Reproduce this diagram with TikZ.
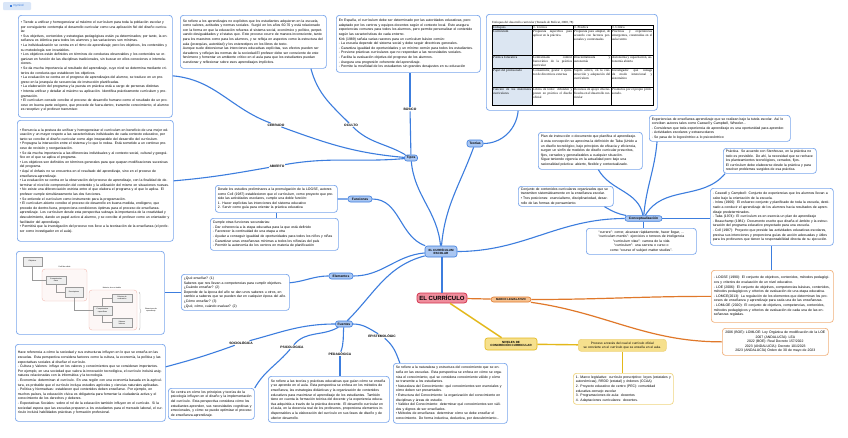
\documentclass[tikz,border=0pt]{standalone}
\usepackage{fontspec}
\setmainfont{Liberation Sans}
\newfontfamily\serifcell{Liberation Serif}
\usetikzlibrary{positioning,decorations.pathreplacing}
\definecolor{linkblue}{HTML}{3C7DDE}
\definecolor{boxblue}{HTML}{78A5EC}
\definecolor{pillblue}{HTML}{A9C6F2}
\definecolor{badgefill}{HTML}{D9E6F8}
\definecolor{currred}{HTML}{D2354F}
\definecolor{currfill}{HTML}{EF8D9C}
\definecolor{legorange}{HTML}{E0782A}
\definecolor{legfill}{HTML}{F6C291}
\definecolor{legbox}{HTML}{F1B07A}
\definecolor{nivline}{HTML}{E3B81A}
\definecolor{nivfill}{HTML}{F6E08D}
\definecolor{nivbox}{HTML}{EFD47E}
\definecolor{cellshade}{HTML}{DCE6F2}
\definecolor{imggray}{HTML}{9A9A9A}
\definecolor{imgfill}{HTML}{EEEEEE}
\definecolor{regionpink}{HTML}{F2B9B0}
\newcommand\boxfont{\fontsize{3.45}{4.6}\selectfont}
\newcommand\cellfont{\serifcell\fontsize{3.3}{4.1}\selectfont}
\newcommand\imgfont{\fontsize{1.8}{2.1}\selectfont}
\newcommand\pillfont{\bfseries\fontsize{3.3}{3.7}\selectfont}
\tikzstyle{textbox}=[rectangle, draw=boxblue, fill=white, line width=0.7pt, rounded corners=3pt, anchor=north west, align=left, inner xsep=2.5pt, inner ysep=1.5pt, font=\boxfont]
\tikzstyle{legalbox}=[textbox, draw=legbox]
\tikzstyle{levelbox}=[textbox, draw=nivbox]
\tikzstyle{topic}=[rectangle, draw=linkblue, fill=pillblue, line width=0.6pt, rounded corners=2.5pt, align=center, inner xsep=2pt, inner ysep=1.2pt, font=\pillfont]
\tikzstyle{branch}=[fill=white, inner sep=0.6pt, font=\pillfont]
\tikzstyle{badge}=[rectangle, fill=badgefill, rounded corners=1pt, text=linkblue, font=\fontsize{3}{3.5}\selectfont, minimum width=28pt, minimum height=8pt, inner sep=0.5pt]
\tikzstyle{link}=[draw=linkblue, line width=1.1pt]
\tikzstyle{legallink}=[draw=legorange, line width=1.2pt]
\tikzstyle{levellink}=[draw=nivline, line width=1.4pt]
\tikzstyle{cell}=[anchor=north west, inner sep=0pt, align=justify, font=\cellfont]
\tikzstyle{imgbox}=[rectangle, draw=imggray, fill=imgfill, line width=0.3pt, align=center, inner sep=0.3pt, font=\imgfont]
\tikzstyle{imgline}=[draw=imggray, line width=0.3pt]
\tikzstyle{region}=[draw=regionpink, line width=0.4pt, rounded corners=3pt, fill=regionpink!12]

\begin{document}
\begin{tikzpicture}[x=1pt, y=-1pt]
\path[use as bounding box, fill=white] (0,0) rectangle (848,437);

\node[badge] (logo) at (17,6) {\rule{2pt}{2pt} mymind};

\node[textbox, text width=149pt, minimum height=102pt] (closed) at (18,15) {• Tiende a unificar y homogeneizar al máximo el currículum para toda la población escolar y por consiguiente contempla el desarrollo curricular como una aplicación fiel del diseño curricular.\\ • Sus objetivos, contenidos y estrategias pedagógicas están ya determinados; por tanto, la enseñanza es idéntica para todos los alumnos y las variaciones son mínimas.\\ • La individualización se centra en el ritmo de aprendizaje; pero los objetivos, los contenidos y su metodología son invariables.\\ • Los objetivos están definidos en términos de conductas observables y los contenidos se organizan en función de las disciplinas tradicionales, sin buscar en ellos conexiones e interrelaciones.\\ • Se da mucha importancia al resultado del aprendizaje, cuyo nivel se determina mediante criterios de conducta que establecen los objetivos.\\ • La evaluación se centra en el progreso de aprendizajes del alumno, se traduce en un progreso en la jerarquía de secuencias de instrucción planificadas.\\ • La elaboración del programa y la puesta en práctica está a cargo de personas distintas\\ • Intenta unificar y detallar al máximo su aplicación. Identifica prácticamente currículum y programación.\\ • El currículum cerrado concibe el proceso de desarrollo humano como el resultado de un proceso en buena parte exógeno, que procede de fuera-dentro, transmite conocimiento, el alumno es receptivo y el profesor transmisor.};

\node[textbox, text width=141pt, minimum height=53pt] (hidden) at (180,15) {Se refiere a los aprendizajes no explícitos que los estudiantes adquieren en la escuela, como valores, actitudes y normas sociales. Surgió en los años 60-70 y está relacionado con la forma en que la educación refuerza el sistema social, económico y político, perpetuando desigualdades y el status quo. Este proceso ocurre de manera inconsciente, tanto para los maestros como para los alumnos, y se refleja en aspectos como la estructura del aula (jerarquías, autoridad) y los estereotipos en los libros de texto.\\ Aunque suele distorsionar las intenciones educativas explícitas, sus efectos pueden ser duraderos y reflejan las normas de la sociedad.El profesor debe ser consciente de este fenómeno y fomentar un ambiente crítico en el aula para que los estudiantes puedan cuestionar y reflexionar sobre esos aprendizajes implícitos.};

\node[textbox, text width=139pt, minimum height=57pt] (basic) at (336,15) {En España, el currículum debe ser determinado por las autoridades educativas, pero adaptado por los centros y equipos docentes según el contexto local. Esto asegura experiencias comunes para todos los alumnos, pero permite personalizar el contenido según las características de cada entorno.\\ Kirk (1989) señala varias razones para un currículum básico común:\\ - La escuela depende del sistema social y debe seguir directrices generales.\\ - Garantiza igualdad de oportunidades y un mínimo común para todos los estudiantes.\\ - Previene prácticas curriculares que no respondan a las necesidades sociales.\\ - Facilita la evaluación objetiva del progreso de los alumnos.\\ - Asegura una progresión coherente del aprendizaje.\\ - Permite la movilidad de los estudiantes sin grandes desajustes en su educación};

\node[textbox, minimum width=171pt, minimum height=96pt, inner sep=0pt] (approaches) at (486,14) {};
\node[anchor=south west, inner sep=0pt, font=\serifcell\fontsize{3.1}{3.6}\selectfont] (tabletitle) at (492,24.6) {Enfoques del desarrollo curricular (Tomado de Bolívar, 2008, 78)};
\fill[cellshade] (492,25) rectangle (532,105);
\draw[line width=0.3pt] (492,25) rectangle (653,105);
\foreach \x in {532,573,611} \draw[line width=0.3pt] (\x,25) -- (\x,105);
\foreach \y in {29.5,55,68,87} \draw[line width=0.3pt] (492,\y) -- (653,\y);
\node[cell, text width=38pt] (h1) at (493,25.7) {Enfoques};
\node[cell, text width=39pt] (h2) at (533,25.7) {T. Técnica};
\node[cell, text width=36pt] (h3) at (574,25.7) {T. Práctica};
\node[cell, text width=40pt] (h4) at (612,25.7) {T. Crítica};
\node[cell, text width=38pt] (r11) at (493,30.2) {Currículum};
\node[cell, text width=39pt] (r12) at (533,30.2) {Propuesta específica para aplicar en la práctica.};
\node[cell, text width=36pt] (r13) at (574,30.2) {Propuesta para adaptar, de acuerdo con factores personales y contextuales};
\node[cell, text width=40pt] (r14) at (612,30.2) {Prácticas y experiencias emergentes, construidas en el aula/centro};
\node[cell, text width=38pt] (r21) at (493,55.7) {Política Educativa};
\node[cell, text width=39pt] (r22) at (533,55.7) {Centralizada control burocrático de la práctica curricular};
\node[cell, text width=36pt] (r23) at (574,55.7) {Descentralizada y autonomía};
\node[cell, text width=40pt] (r24) at (612,55.7) {Autonomía y capacitación, autonomía abierta};
\node[cell, text width=38pt] (r31) at (493,68.7) {Papel del profesorado};
\node[cell, text width=39pt] (r32) at (533,68.7) {Consumidor, gestor o ejecutor de directrices externas};
\node[cell, text width=36pt] (r33) at (574,68.7) {Sujeto activo, en la construcción y adaptación del currículum};
\node[cell, text width=40pt] (r34) at (612,68.7) {Investigador que indaga de modo intencional y sistemático};
\node[cell, text width=38pt] (r41) at (493,87.7) {Función de los materiales curriculares};
\node[cell, text width=39pt] (r42) at (533,87.7) {Libros de texto: difunden y ponen en práctica el diseño oficial};
\node[cell, text width=36pt] (r43) at (574,87.7) {Recursos de apoyo diversificados en el desarrollo curricular};
\node[cell, text width=40pt] (r44) at (612,87.7) {Productos por el propio profesorado.};

\node[textbox, text width=151pt, minimum height=121pt] (open) at (17,120) {• Renuncia a la postura de unificar y homogeneizar el currículum en beneficio de una mejor educación y un mayor respeto a las características individuales de cada contexto educativo, por tanto se concibe el diseño curricular como algo inseparable del desarrollo del currículum.\\ • Propugna la interacción entre el sistema y lo que lo rodea. Está sometido a un continuo proceso de revisión y reorganización.\\ • Se da mucha importancia a las diferencias individuales y al contexto social, cultural y geográfico en el que se aplica el programa.\\ • Los objetivos son definidos en términos generales para que quepan modificaciones sucesivas del programa.\\ • Aquí el énfasis no se encuentra en el resultado del aprendizaje, sino en el proceso de enseñanza-aprendizaje.\\ • La evaluación se centra en la observación del proceso de aprendizaje, con la finalidad de determinar el nivel de comprensión del contenido y la utilización del mismo en situaciones nuevas.\\ • No existe una diferenciación estricta entre el que elabora el programa y el que lo aplica. El profesor cumple simultáneamente las dos funciones.\\ • Se entiende el currículum como instrumento para la programación.\\ • El currículum abierto concibe el proceso de desarrollo en buena medida, endógeno, que procede de dentro-fuera, proporciona condiciones óptimas para el proceso de enseñanza-aprendizaje. Los currículum desde esta perspectiva subraya la importancia de la creatividad y descubrimiento, dando un papel activo al alumno, y se concibe el profesor como un orientador y facilitador del aprendizaje.\\ • Permitirá que la investigación del proceso nos lleve a la teorización de la enseñanza (el profesor como investigador en el aula).};

\node[textbox, text width=117pt, minimum height=27pt] (funcA) at (215,185) {Desde los estudios preliminares a la promulgación de la LOGSE, autores como Coll (1987) establecieron que el currículum, como proyecto que preside las actividades escolares, cumple una doble función:\\ 1. Hacer explícitas las intenciones del sistema educativo\\ 2. Servir como guía para orientar la práctica educativa};

\node[textbox, text width=123pt, minimum height=32pt] (funcB) at (210,218) {Cumple otras funciones secundarias:\\ - Dar coherencia a la etapa educativa para la que está definido\\ - Favorecer la continuidad de una etapa a otra\\ - Ayudar a conseguir igualdad de oportunidades para todos los niños y niñas\\ - Garantizar unas enseñanzas mínimas a todos los niños/as del país\\ - Permitir la autonomía de los centros en materia de planificación};

\node[textbox, minimum width=148pt, minimum height=83pt, inner sep=0pt] (scheme) at (16,251) {};
\draw[region] (42,269) rectangle (87,301);
\draw[region] (89,290) rectangle (137,330);
\node[inner sep=0pt, font=\imgfont] (perfil) at (64.5,266.5) {Perfil de salida};
\node[inner sep=0pt, font=\imgfont] (materia) at (112,287.5) {Materia, área o ámbito};
\node[imgbox, minimum width=19pt, minimum height=9pt] (obj) at (32.5,261.5) {Objetivos};
\node[imgbox, minimum width=20pt, minimum height=8pt] (pclave) at (56,280) {Competencias\\clave};
\node[imgbox, minimum width=18pt, minimum height=10pt] (desc) at (74,292) {Descriptores};
\node[imgbox, minimum width=20pt, minimum height=8pt] (crit) at (122,298) {Criterios de\\evaluación};
\node[imgbox, minimum width=19pt, minimum height=9pt] (cesp) at (102.5,310.5) {Competencias\\específicas};
\node[imgbox, minimum width=20pt, minimum height=9pt] (sab) at (122,322.5) {Saberes\\básicos};
\node[inner sep=0pt, align=center, font=\imgfont] (situ) at (151,310) {Situaciones de\\aprendizaje};
\draw[imgline] (obj.south) |- (pclave.west);
\draw[imgline] (pclave.south) |- (desc.west);
\draw[imgline] (desc.south) |- (cesp.west);
\draw[imgline] (cesp.north) |- (crit.west);
\draw[imgline] (cesp.south) |- (sab.west);
\draw[imgline, decorate, decoration={brace, amplitude=2pt}] (139,292) -- (139,330);

\node[textbox, text width=103pt, minimum height=36pt] (questions) at (181,274) {¿Qué enseñar? (1)\\ Saberes que nos llevan a competencias para cumplir objetivos.\\ ¿Cuándo enseñar? (2)\\ Depende de la época del año se dan unos saberes u otros, en cambio a saberes que se pueden dar en cualquier época del año.\\ ¿Cómo enseñar? (3)\\ ¿Qué, cómo, cuándo evaluar? (2)};

\node[textbox, text width=145pt, minimum height=77pt] (socbox) at (15,344) {Hace referencia a cómo la sociedad y sus estructuras influyen en lo que se enseña en las escuelas. Esta perspectiva considera factores como la cultura, la economía, la política y las expectativas sociales al diseñar el currículo.\\ - Cultura y Valores: influye en los valores y conocimientos que se consideran importantes. Por ejemplo, en una sociedad que valora la innovación tecnológica, el currículo incluirá asignaturas relacionadas con la informática y la tecnología.\\ - Economía: determinan el currículo. En una región con una economía basada en la agricultura, es probable que el currículo incluya estudios agrícolas y ciencias naturales aplicadas.\\ - Política y Normativas: establecen qué contenidos deben enseñarse. Por ejemplo, en muchos países, la educación cívica es obligatoria para fomentar la ciudadanía activa y el conocimiento de los derechos y deberes.\\ - Expectativas Sociales: sobre el rol de la educación también influyen en el currículo. Si la sociedad espera que las escuelas preparen a los estudiantes para el mercado laboral, el currículo incluirá habilidades prácticas y formación profesional.};

\node[textbox, text width=81pt, minimum height=31pt] (psybox) at (168,388) {Se centra en cómo los principios y teorías de la psicología influyen en el diseño y la implementación del currículo. Esta perspectiva considera cómo los estudiantes aprenden, sus necesidades cognitivas y emocionales, y cómo se puede optimizar el proceso de enseñanza-aprendizaje.};

\node[textbox, text width=116pt, minimum height=46pt] (pedbox) at (268,376) {Se refiere a las teorías y prácticas educativas que guían cómo se enseña y se aprende en el aula. Esta perspectiva se enfoca en los métodos de enseñanza, las estrategias didácticas y la organización de contenidos educativos para maximizar el aprendizaje de los estudiantes. También tiene en cuenta la formación teórica del docente y la experiencia educativa adquirida a través de la práctica docente. El desarrollo curricular en el aula, en la docencia real de los profesores, proporciona elementos indispensables a la elaboración del currículo en sus fases de diseño y de ulterior desarrollo.};

\node[textbox, text width=109pt, minimum height=60pt] (epibox) at (393,363) {Se refiere a la naturaleza y estructura del conocimiento que se enseña en las escuelas. Esta perspectiva se enfoca en cómo se organiza el conocimiento, qué se considera conocimiento válido y cómo se transmite a los estudiantes.\\ • Naturaleza del Conocimiento: qué conocimientos son esenciales y cómo deben ser presentados.\\ • Estructura del Conocimiento: la organización del conocimiento en disciplinas y áreas de estudio.\\ • Validez del Conocimiento: determinar qué conocimientos son válidos y dignos de ser enseñados.\\ • Métodos de enseñanza: determinar cómo se debe enseñar el conocimiento. De forma inductiva, deductiva, por descubrimiento...};

\node[textbox, text width=99pt, minimum height=37pt] (plan) at (538,132) {Plan de instrucción o documento que planifica el aprendizaje.\\ A esta concepción se aproxima la definición de Taba (Unido a un diseño tecnológico, bajo principios de eficacia y eficiencia, surgen un sinfín de modelos de diseño curricular prescritos, fijos, cerrados y generalizables a cualquier situación.\\ Sigue teniendo vigencia en la actualidad pero bajo una racionalidad práctica: abierto, flexible y contextualizado.};

\node[textbox, text width=90pt, minimum height=20pt, inner ysep=0.8pt] (contents) at (518,186) {Conjunto de contenidos curriculares organizados que se transmiten sistemáticamente en la enseñanza escolar.\\ • Tres posiciones: esencialismo, disciplinariedad, desarrollo de las formas de pensamiento.};

\node[textbox, text width=105pt, minimum height=26pt, align=center, inner ysep=1pt] (etym) at (586,228) {“currere”: correr, alcanzar rápidamente, hacer llegar, ...\\ “curriculum mentis”: ejercicios o torneos de inteligencia\\ “curriculum vitae”: carrera de la vida\\ “curriculum”: una carrera o curso o como “course of subject matter studies”.};

\node[textbox, text width=136pt, minimum height=26pt] (experiences) at (649,115) {Experiencias de enseñanza-aprendizaje que se realizan bajo la tutela escolar. Así lo conciben autores tales como Caswell y Campbell, Wheeler...\\ - Consideran que toda experiencia de aprendizaje es una oportunidad para aprender.\\ - Actividades escolares y extraescolares\\ - Se pasa de lo logocéntrico a lo psicocéntrico};

\node[textbox, text width=88pt, minimum height=25pt] (practice) at (723,148) {Práctica. Se acuerdo con Stenhouse, en la práctica no todo es previsible. De ahí, la necesidad que se rechace los planteamientos tecnológicos, cerrados, fijos.\\ El currículum debe elaborarse desde la práctica y para resolver problemas surgidos de esa práctica.};

\node[textbox, text width=118pt, minimum height=57pt] (authors) at (710,188) {- Caswell y Campbell: Conjunto de experiencias que los alumnos llevan a cabo bajo la orientación de la escuela.\\ - Inlow (1966): El esfuerzo conjunto y planificado de toda la escuela, destinado a conducir el aprendizaje de los alumnos hacia resultados de aprendizaje predeterminados.\\ - Taba (1974): El currículum es en esencia un plan de aprendizaje\\ - Beauchamp (1981): Documento escrito que diseña el ámbito y la estructuración del programa educativo proyectado para una escuela.\\ - Coll (1987): Proyecto que preside las actividades educativas escolares, precisa sus intenciones y proporciona guías de acción adecuadas y útiles para los profesores que tienen la responsabilidad directa de su ejecución.};

\node[legalbox, text width=117pt, minimum height=52pt] (laws) at (711,270) {- LOGSE (1990): El conjunto de objetivos, contenidos, métodos pedagógicos y criterios de evaluación de un nivel educativo.\\ - LOE (2006): El conjunto de objetivos, competencias básicas, contenidos, métodos pedagógicos y criterios de evaluación de una etapa educativa.\\ - LOMCE(2013): La regulación de los elementos que determinan los procesos de enseñanza y aprendizaje para cada una de las enseñanzas.\\ - LOMLOE (2020): El conjunto de objetivos, competencias, contenidos, métodos pedagógicos y criterios de evaluación de cada una de las enseñanzas regladas.};

\node[legalbox, text width=101pt, minimum height=27pt, align=center] (dates) at (722,328) {2006 (BOE): LOMLOE: Ley Orgánica de modificación de la LOE\\ 2007 (ANDALUCÍA): LEA\\ 2022 (BOE): Real Decreto 157/2022\\ 2023 (ANDALUCÍA): Decreto 101/2023\\ 2023 (ANDALUCÍA) Orden de 30 de mayo de 2023};

\node[levelbox, fill=nivfill, text width=84pt, minimum height=12pt, align=center, inner xsep=2pt, inner ysep=1pt, font=\fontsize{3.2}{4.3}\selectfont] (process) at (578,339) {Proceso a través del cual el currículo oficial\\ se convierte en el currículo que se enseña en el aula.};

\node[levelbox, text width=95pt, minimum height=31pt] (levels) at (573,373) {1. Marco legislativo: currículo prescriptivo: leyes (estatales y autonómicas), RRDD (estatal) y órdenes (CCAA)\\ 2. Proyecto educativo de centro (PEC): comunidad educativa-consejo escolar\\ 3. Programaciones de aula: docentes\\ 4. Adaptaciones curriculares: docentes.};

\node[topic, fill=currfill, draw=currred, line width=0.8pt, rounded corners=3pt, font=\bfseries\fontsize{6}{7}\selectfont, minimum width=50pt, minimum height=10pt, inner ysep=1pt] (curr) at (442,298) {EL CURRÍCULO};
\node[topic, fill=legfill, draw=legorange, font=\bfseries\fontsize{2.8}{3.2}\selectfont, minimum width=40pt, minimum height=5pt, inner ysep=0.6pt] (marco) at (511,299.5) {MARCO LEGISLATIVO};
\node[topic, fill=nivfill, draw=nivline, font=\bfseries\fontsize{3}{3.6}\selectfont, minimum width=52pt, minimum height=12pt, inner ysep=0.8pt] (niveles) at (511,344) {NIVELES DE\\CONCRECIÓN CURRICULAR};
\node[topic, font=\bfseries\fontsize{3}{3.6}\selectfont, minimum width=32pt, minimum height=11pt, inner ysep=0.8pt] (escolar) at (441,251.5) {EL CURRÍCULUM\\ESCOLAR};
\node[topic, minimum width=13pt, minimum height=6pt, inner ysep=0.5pt] (tipos) at (411,158) {Tipos};
\node[topic, minimum width=16pt, minimum height=7pt, inner ysep=0.5pt] (teorias) at (475,143.5) {Teorías};
\node[topic, minimum width=24pt, minimum height=6pt, inner ysep=0.5pt] (funciones) at (360,199) {Funciones};
\node[topic, minimum width=24pt, minimum height=6pt, inner ysep=0.5pt] (elementos) at (341,276) {Elementos};
\node[topic, minimum width=17pt, minimum height=6pt, inner ysep=0.5pt] (fuentes) at (344,324) {Fuentes};
\node[topic, minimum width=37pt, minimum height=5.5pt, inner ysep=0.5pt] (concep) at (643.5,218.5) {Conceptualización};

\node[branch] (basico) at (410,109) {BÁSICO};
\node[branch] (oculto) at (351,125) {OCULTO};
\node[branch] (cerrado) at (276,125) {CERRADO};
\node[branch] (abierto) at (277,166) {ABIERTO};
\node[branch] (socio) at (241,343) {SOCIOLÓGICA};
\node[branch] (psico) at (292,347) {PSICOLÓGICA};
\node[branch] (pedago) at (340,354) {PEDAGÓGICA};
\node[branch] (episte) at (382,336) {EPISTEMOLÓGIC};

\draw[link] (curr.north) -- (curr.north |- escolar.south);
\draw[legallink] (curr) -- (marco);
\draw[levellink] (curr) -- (niveles);
\draw[legallink] (marco) to[out=0,in=180] (laws.west);
\draw[legallink] (marco) to[out=-8,in=180] (dates.west);
\draw[levellink] (niveles) -- (process);
\draw[levellink] (process.south) -- (process.south |- levels.north);

\draw[link] (escolar) to[out=95,in=-85] (tipos);
\draw[link] (escolar) to[out=85,in=-110] (teorias);
\draw[link] (teorias) to[out=0,in=-95] (approaches.-138);
\draw[link] (tipos) -- (basico);
\draw[link] (basico) -- (basico |- basic.south);
\draw[link] (tipos) to[out=150,in=-45] (oculto) to[out=135,in=-75] (hidden.-25);
\draw[link] (tipos) to[out=175,in=-20] (cerrado) to[out=160,in=-5] (closed.-7);
\draw[link] (tipos) to[out=185,in=10] (abierto) to[out=190,in=5] (open.east);

\draw[link] (funciones) to[out=0,in=160] (escolar);
\draw[link] (funciones) -- (funcA);
\draw[link] (funcA.south) -- (funcA.south |- funcB.north);
\draw[link] (elementos) to[out=0,in=185] (escolar);
\draw[link] (elementos) to[out=180,in=5] (questions.10);
\draw[link] (questions.west) -- (questions.west -| scheme.east);

\draw[link] (fuentes) to[out=45,in=195] (escolar);
\draw[link] (fuentes) to[out=180,in=15] (socio) to[out=-160,in=15] (socbox.12);
\draw[link] (fuentes) to[out=210,in=50] (psico) to[out=-130,in=60] (psybox.north east);
\draw[link] (fuentes) to[out=-95,in=70] (pedago);
\draw[link] (pedago) -- (pedago |- pedbox.north);
\draw[link] (fuentes) to[out=0,in=150] (episte) to[out=-40,in=110] (epibox.149);

\draw[link] (escolar) to[out=0,in=180] (concep);
\draw[link] (concep) to[out=100,in=-60] (plan.-67);
\draw[link] (concep) to[out=170,in=-30] (contents.-15);
\draw[link] (concep.south) -- (concep.south |- etym.north);
\draw[link] (concep) to[out=85,in=-95] (experiences.-168);
\draw[link] (concep) to[out=60,in=-130] (practice.-164);
\draw[link] (concep.east) -- (concep.east -| authors.west);
\draw[link] (authors.south) -- (authors.south |- laws.north);
\end{tikzpicture}
\end{document}
